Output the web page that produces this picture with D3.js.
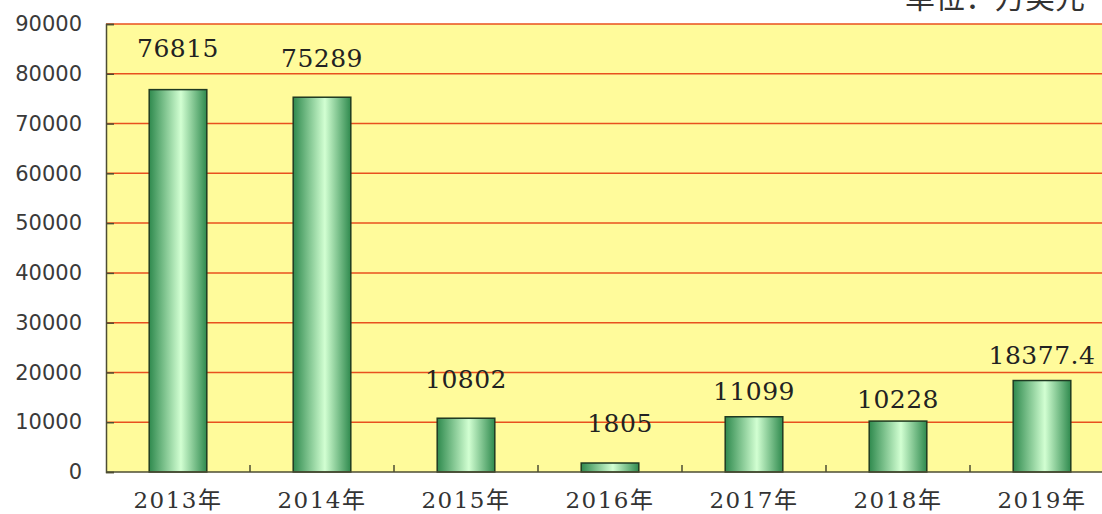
<!DOCTYPE html>
<html>
<head>
<meta charset="utf-8">
<script src="https://cdn.jsdelivr.net/npm/d3@7"></script>
<style>
body { margin: 0; background: #fff; }
svg { display: block; }
</style>
</head>
<body>
<script>
const width = 1102;
const height = 514;

// data
const years = ["2013年", "2014年", "2015年", "2016年", "2017年", "2018年", "2019年"];
const values = [76815, 75289, 10802, 1805, 11099, 10228, 18377.4];
const valueLabels = ["76815", "75289", "10802", "1805", "11099", "10228", "18377.4"];
const yTicks = [0, 10000, 20000, 30000, 40000, 50000, 60000, 70000, 80000, 90000];

// label placement (the original labels are not evenly offset from the bars)
const labelDx = [0, 0, 0, 10, 0, 0, 0];
const labelDy = [-33, -30, -30, -31, -17, -13, -17];

const margin = { top: 24, right: -12, bottom: 42, left: 106 };

const svg = d3.select("body")
	.append("svg")
	.attr("width", width)
	.attr("height", height);

const x = d3.scaleBand()
	.domain(years)
	.range([margin.left, width - margin.right])
	.paddingInner(0.6)
	.paddingOuter(0.3);

const step = x.step();

const y = d3.scaleLinear()
	.domain([0, 90000])
	.range([height - margin.bottom, margin.top]);

// bar gradient
const grad = svg.append("defs")
	.append("linearGradient")
	.attr("id", "barGrad")
	.attr("x1", "0%").attr("x2", "100%")
	.attr("y1", "0%").attr("y2", "0%");
grad.append("stop").attr("offset", "0%").attr("stop-color", "#2f8a4e");
grad.append("stop").attr("offset", "55%").attr("stop-color", "#d2ffd2");
grad.append("stop").attr("offset", "100%").attr("stop-color", "#2f8a4e");

// plot background
svg.append("rect")
	.attr("x", margin.left)
	.attr("y", margin.top)
	.attr("width", width - margin.left - margin.right)
	.attr("height", y(0) - margin.top)
	.attr("fill", "#fffb9b");

// grid lines
svg.append("g")
	.selectAll("line")
	.data(yTicks.filter(d => d > 0))
	.enter()
	.append("line")
	.attr("x1", margin.left)
	.attr("x2", width)
	.attr("y1", d => y(d))
	.attr("y2", d => y(d))
	.attr("stroke", "#e8501e")
	.attr("stroke-width", 1.5);

// y axis
const yAxis = svg.append("g")
	.attr("transform", `translate(${margin.left},0)`)
	.call(d3.axisLeft(y).tickValues(yTicks).tickSize(-8).tickPadding(24).tickFormat(d3.format("d")));
yAxis.select(".domain").attr("stroke", "#4d4d33").attr("stroke-width", 1.5);
yAxis.selectAll(".tick line").attr("stroke", "#4d4d33").attr("stroke-width", 1.5);
yAxis.selectAll("text")
	.attr("font-family", "DejaVu Sans, sans-serif")
	.attr("font-size", 21)
	.attr("fill", "#3a3a3a");

// bars
svg.append("g")
	.selectAll("rect")
	.data(values)
	.enter()
	.append("rect")
	.attr("x", (d, i) => x(years[i]))
	.attr("y", d => y(d))
	.attr("width", x.bandwidth())
	.attr("height", d => y(0) - y(d))
	.attr("fill", "url(#barGrad)")
	.attr("stroke", "#1f3a22")
	.attr("stroke-width", 1.5);

// x axis
svg.append("line")
	.attr("x1", margin.left)
	.attr("x2", width)
	.attr("y1", y(0))
	.attr("y2", y(0))
	.attr("stroke", "#4d4d33")
	.attr("stroke-width", 1.5);

svg.append("g")
	.selectAll("line")
	.data(years.slice(1))
	.enter()
	.append("line")
	.attr("x1", d => x(d) - (step - x.bandwidth()) / 2)
	.attr("x2", d => x(d) - (step - x.bandwidth()) / 2)
	.attr("y1", y(0))
	.attr("y2", y(0) - 7)
	.attr("stroke", "#4d4d33")
	.attr("stroke-width", 1.5);

svg.append("g")
	.selectAll("text")
	.data(years)
	.enter()
	.append("text")
	.attr("x", d => x(d) + x.bandwidth() / 2)
	.attr("y", height - 6)
	.attr("text-anchor", "middle")
	.attr("font-family", "DejaVu Serif, 'Noto Sans CJK SC', serif")
	.attr("font-size", 23)
	.attr("letter-spacing", 1.5)
	.attr("fill", "#333")
	.text(d => d);

// value labels
svg.append("g")
	.selectAll("text")
	.data(values)
	.enter()
	.append("text")
	.attr("x", (d, i) => x(years[i]) + x.bandwidth() / 2 + labelDx[i])
	.attr("y", (d, i) => y(d) + labelDy[i])
	.attr("text-anchor", "middle")
	.attr("font-family", "DejaVu Serif, serif")
	.attr("font-size", 25)
	.attr("letter-spacing", 0.5)
	.attr("fill", "#222")
	.text((d, i) => valueLabels[i]);

// unit
svg.append("text")
	.attr("x", 905)
	.attr("y", 8)
	.attr("font-family", "'Noto Sans CJK SC', sans-serif")
	.attr("font-size", 30)
	.attr("fill", "#333")
	.text("单位：万美元");
</script>
</body>
</html>
